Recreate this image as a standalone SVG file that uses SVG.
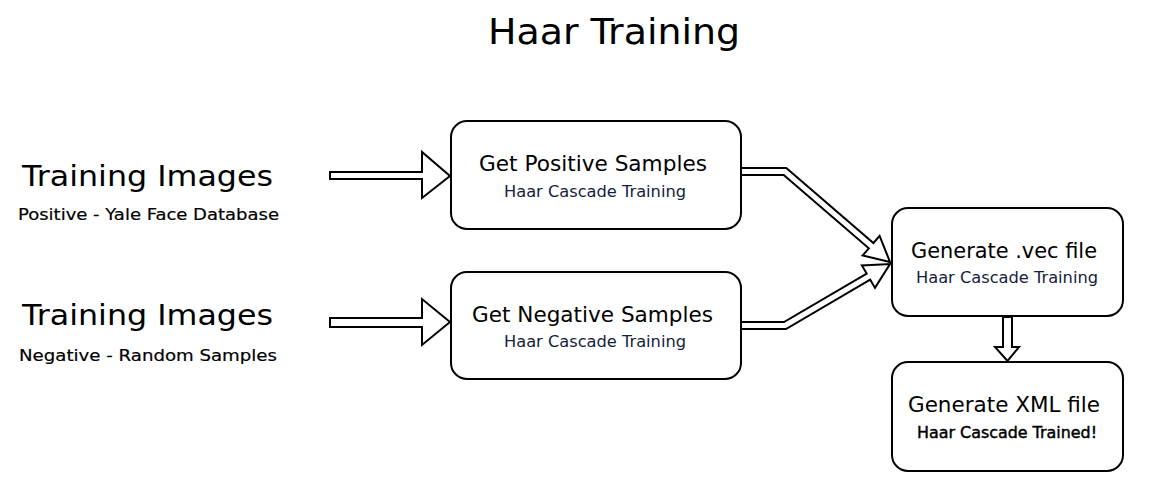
<svg xmlns="http://www.w3.org/2000/svg" width="1149" height="499" viewBox="0 0 1149 499">
<style>
  text { font-family: "DejaVu Sans", "Liberation Sans", sans-serif; fill: #000; }
  .title { font-size: 36px; }
  .big { font-size: 29px; }
  .label { font-size: 16.5px; stroke: #000; stroke-width: 0.2px; }
  .h { font-size: 21px; }
  .sub { font-size: 16px; fill: #14213d; }
  .subb { font-size: 16px; stroke: #000; stroke-width: 0.45px; }
  .box { fill: #fff; stroke: #000; stroke-width: 2; }
  .arrow { fill: #fff; stroke: #000; stroke-width: 2; stroke-linejoin: miter; }
</style>
<rect width="1149" height="499" fill="#fff"/>
<text class="title" x="488" y="44" textLength="252" lengthAdjust="spacingAndGlyphs">Haar Training</text>

<g id="training-positive">
  <text class="big" x="22" y="186" textLength="251" lengthAdjust="spacingAndGlyphs">Training Images</text>
  <text class="label" x="18" y="220" textLength="261" lengthAdjust="spacingAndGlyphs">Positive - Yale Face Database</text>
</g>
<g id="training-negative">
  <text class="big" x="22" y="325" textLength="251" lengthAdjust="spacingAndGlyphs">Training Images</text>
  <text class="label" x="19" y="361" textLength="258" lengthAdjust="spacingAndGlyphs">Negative - Random Samples</text>
</g>

<g id="connectors">
  <polygon class="arrow" points="330,172 422,172 422,152 450,176 422,198 422,179 330,179"/>
  <polygon class="arrow" points="330,318 422,318 422,299 450,322 422,345 422,327 330,327"/>
  <polygon class="arrow" points="741,168 786.3,168 873.4,243 879.6,235.8 890,262 862.6,255.5 868.8,248.3 783.7,175 741,175"/>
  <polygon class="arrow" points="741,322 784,322 866.7,273.6 861.9,265.4 890,264 875,287.9 870.2,279.7 786,329 741,329"/>
  <polygon class="arrow" points="1003,317 1012,317 1012,347 1019,347 1007.5,361 995,347 1003,347"/>
</g>

<g id="get-positive">
  <rect class="box" x="451" y="121" width="290" height="108" rx="16"/>
  <text class="h" x="479" y="171" textLength="228" lengthAdjust="spacingAndGlyphs">Get Positive Samples</text>
  <text class="sub" x="504" y="197" textLength="182" lengthAdjust="spacingAndGlyphs">Haar Cascade Training</text>
</g>
<g id="get-negative">
  <rect class="box" x="451" y="272" width="290" height="107" rx="16"/>
  <text class="h" x="472" y="322" textLength="241" lengthAdjust="spacingAndGlyphs">Get Negative Samples</text>
  <text class="sub" x="504" y="347" textLength="182" lengthAdjust="spacingAndGlyphs">Haar Cascade Training</text>
</g>
<g id="generate-vec">
  <rect class="box" x="892" y="208" width="231" height="108" rx="16"/>
  <text class="h" x="911" y="258" textLength="186" lengthAdjust="spacingAndGlyphs">Generate .vec file</text>
  <text class="sub" x="916" y="283" textLength="182" lengthAdjust="spacingAndGlyphs">Haar Cascade Training</text>
</g>
<g id="generate-xml">
  <rect class="box" x="892" y="362" width="231" height="109" rx="16"/>
  <text class="h" x="908" y="412" textLength="192" lengthAdjust="spacingAndGlyphs">Generate XML file</text>
  <text class="subb" x="917" y="438" textLength="180" lengthAdjust="spacingAndGlyphs">Haar Cascade Trained!</text>
</g>
</svg>
